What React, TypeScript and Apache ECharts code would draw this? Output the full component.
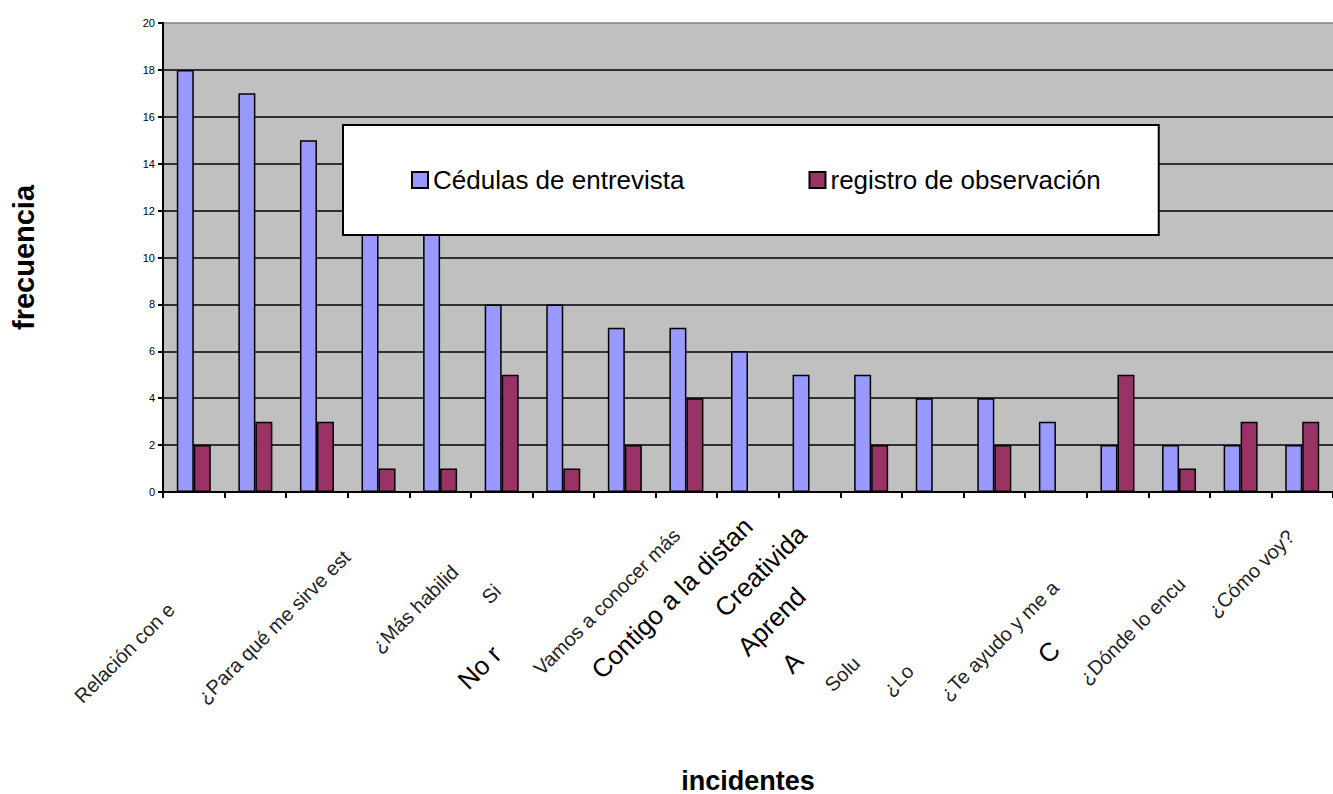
import React, { useEffect, useRef } from "react";
import * as echarts from "echarts";

const categories = [
  "",
  "Relación con e",
  "",
  "¿Para qué me sirve est",
  "",
  "¿Más habilid",
  "Si",
  "No r",
  "Vamos a conocer más",
  "Contigo a la distan",
  "Creativida",
  "Aprend",
  "A",
  "Solu",
  "¿Lo",
  "¿Te ayudo y me a",
  "C",
  "¿Dónde lo encu",
  "¿Cómo voy?",
];
const cleanLabels = ["No r", "Contigo a la distan", "Creativida", "Aprend", "A", "C"];
// hidden (clipped) tail length of each tick label, in px along the text
const labelClip = [0, 119, 0, 45, 0, 66, 93, 181, 14, 0, 11, 99, 190, 195, 206, 88, 175, 83, 16];
const entrevista = [18, 17, 15, 12, 12, 8, 8, 7, 7, 6, 5, 5, 4, 4, 3, 2, 2, 2, 2];
const observacion = [2, 3, 3, 1, 1, 5, 1, 2, 4, 0, 0, 2, 0, 2, 0, 5, 1, 3, 3];
const yTicks = [0, 2, 4, 6, 8, 10, 12, 14, 16, 18, 20];

export default function App() {
  const ref = useRef<HTMLDivElement>(null);
  useEffect(() => {
    if (!ref.current) return;
    const chart = echarts.init(ref.current, null, { renderer: "svg" });
    const font = "Liberation Sans, Arial, sans-serif";
    const rich: Record<string, any> = {};
    categories.forEach((c, i) => {
      const clean = cleanLabels.indexOf(c) >= 0;
      rich["s" + i] = {
        fontSize: clean ? 26 : 20,
        color: clean ? "#000" : "#222",
        fontFamily: font,
        padding: [0, labelClip[i], 0, 0],
      };
    });
    chart.setOption({
      animation: false,
      textStyle: { fontFamily: font },
      grid: {
        left: 163,
        right: 0,
        top: 23,
        bottom: 302,
        outerBoundsMode: "none",
        containLabel: false,
        show: true,
        backgroundColor: "#c0c0c0",
        borderWidth: 0,
      },
      legend: {
        left: 343,
        top: 125,
        orient: "horizontal",
        backgroundColor: "#ffffff",
        borderColor: "#000000",
        borderWidth: 2,
        borderRadius: 0,
        padding: [42, 58, 42, 68],
        itemGap: 124,
        itemWidth: 16,
        itemHeight: 16,
        icon: "rect",
        textStyle: { fontSize: 26, color: "#000", fontFamily: font },
        data: ["Cédulas de entrevista", "registro de observación"],
      },
      xAxis: {
        type: "category",
        data: categories,
        name: "incidentes",
        nameLocation: "middle",
        nameGap: 275,
        nameTextStyle: { fontSize: 27, fontWeight: "bold", color: "#000", fontFamily: font },
        axisLine: { show: true, lineStyle: { color: "#000", width: 2 } },
        axisTick: { show: true, alignWithLabel: false, length: 6, lineStyle: { color: "#000", width: 2 } },
        axisLabel: {
          interval: 0,
          rotate: 45,
          margin: 30,
          formatter: (v: string, i: number) => (v ? `{s${i}|${v}}` : ""),
          rich,
        },
        splitLine: { show: false },
      },
      yAxis: {
        type: "value",
        min: 0,
        max: 20,
        interval: 2,
        name: "frecuencia",
        nameLocation: "middle",
        nameRotate: 90,
        nameGap: 125,
        nameTextStyle: { fontSize: 29, fontWeight: "bold", color: "#000", fontFamily: font },
        axisLine: { show: true, lineStyle: { color: "#000", width: 2 } },
        axisTick: { show: true, length: 5, lineStyle: { color: "#000", width: 2 } },
        axisLabel: {
          fontSize: 11,
          color: "#000",
          margin: 8,
          formatter: (v: number) => (yTicks.indexOf(v) >= 0 ? String(v) : ""),
        },
        splitLine: {
          show: true,
          lineStyle: {
            color: ["#000", "#000", "#000", "#000", "#000", "#000", "#000", "#000", "#000", "#000", "#808080"],
            width: 1.5,
          },
        },
      },
      series: [
        {
          name: "Cédulas de entrevista",
          type: "bar",
          data: entrevista,
          barWidth: 17,
          barGap: "0%",
          itemStyle: { color: "#9999ff", borderColor: "#000", borderWidth: 1.5 },
        },
        {
          name: "registro de observación",
          type: "bar",
          data: observacion,
          barWidth: 17,
          barGap: "0%",
          itemStyle: { color: "#993366", borderColor: "#000", borderWidth: 1.5 },
        },
      ],
    });
    return () => chart.dispose();
  }, []);
  return (
    <div
      ref={ref}
      style={{ position: "fixed", left: 0, top: 0, width: 1333, height: 794, background: "#fff" }}
    />
  );
}
